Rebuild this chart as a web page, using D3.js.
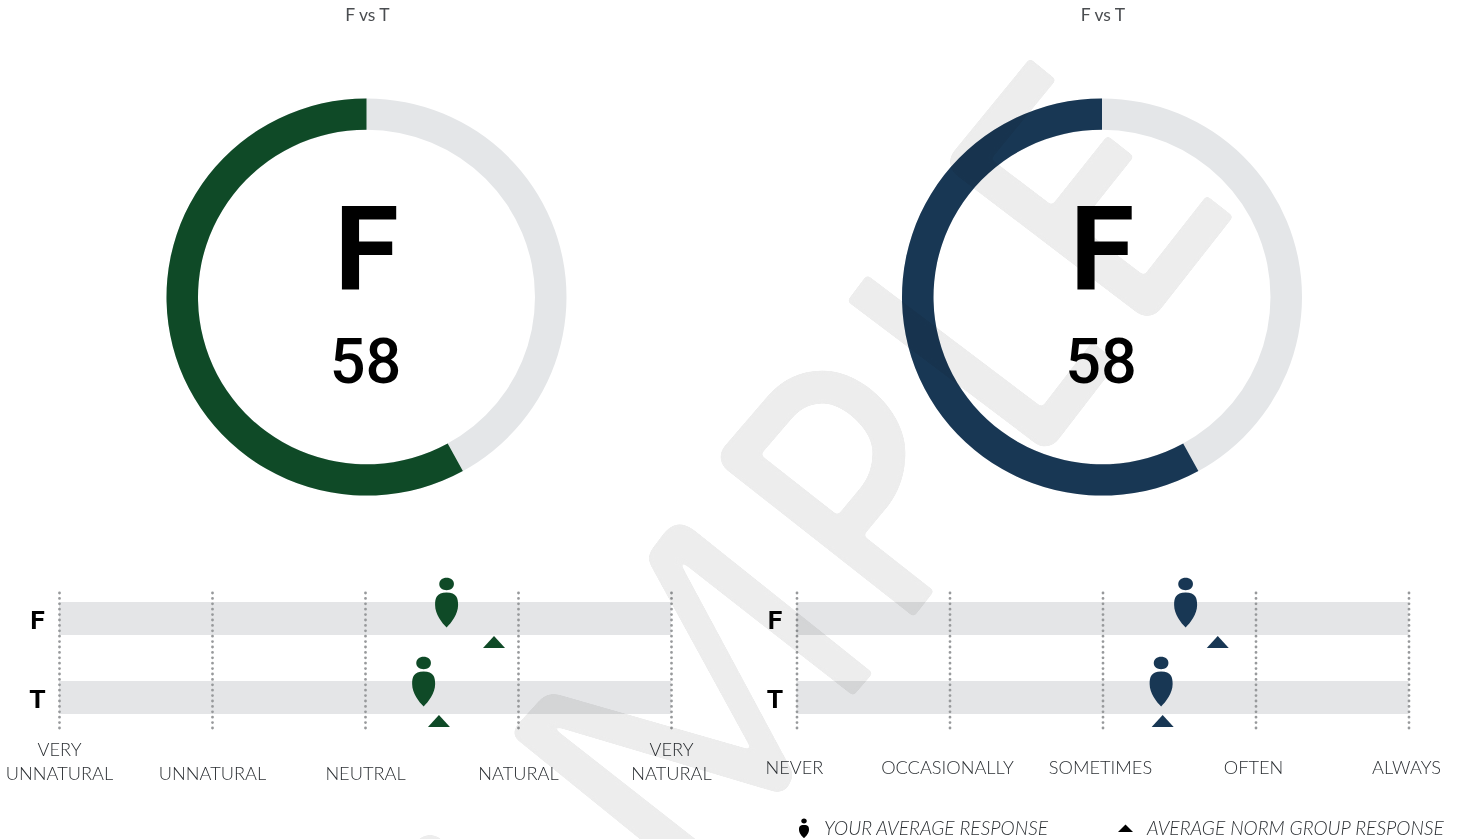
<!DOCTYPE html>
<html>
<head>
<meta charset="utf-8">
<script src="https://cdn.jsdelivr.net/npm/d3@7"></script>
<style>
    html, body { margin: 0; padding: 0; background: #fff; }
    svg { display: block; }
    text { font-family: Lato, sans-serif; }
    .scale-label { font-weight: 300; font-size: 18.2px; fill: #2b2f33; }
</style>
</head>
<body>
<div id="grafiek"></div>
<script>
// Gegevens
var titles = ["F vs T", "F vs T"];
var ringLetters = ["F", "F"];
var ringScores = [58, 58];
var rows = ["F", "T"];
var scaleLabelsLeft = [["VERY", "UNNATURAL"], ["UNNATURAL"], ["NEUTRAL"], ["NATURAL"], ["VERY", "NATURAL"]];
var scaleLabelsRight = [["NEVER"], ["OCCASIONALLY"], ["SOMETIMES"], ["OFTEN"], ["ALWAYS"]];
var scaleSteps = [1, 2, 3, 4, 5];
var yourLeft = [3.53, 3.38];
var normLeft = [3.84, 3.48];
var yourRight = [3.54, 3.38];
var normRight = [3.75, 3.39];
var legendLabels = ["YOUR AVERAGE RESPONSE", "AVERAGE NORM GROUP RESPONSE"];

var width = 1459;
var height = 839;
var green = "#0f4a27";
var navy = "#183754";
var lightGrey = "#e4e5e7";

var svg = d3.select("#grafiek")
    .append("svg")
    .attr("width", width)
    .attr("height", height);

// Ring met score
var angle = d3.scaleLinear().domain([0, 100]).range([0, -2 * Math.PI]);
var arc = d3.arc().innerRadius(168.5).outerRadius(200);

function drawRing(cx, title, letter, score, color) {
    var g = svg.append("g").attr("transform", "translate(" + cx + ",297)");
    var ring = g.append("g").attr("transform", "scale(1,0.993)");
    ring.append("path")
        .attr("d", arc({ startAngle: 0, endAngle: 2 * Math.PI }))
        .attr("fill", "#e4e6e8");
    ring.append("path")
        .attr("d", arc({ startAngle: 0, endAngle: angle(score) }))
        .attr("fill", color);
    g.append("text")
        .attr("y", -276)
        .attr("x", 1)
        .attr("text-anchor", "middle")
        .style("font-size", "17.5px")
        .style("fill", "#4a4d50")
        .text(title);
    g.append("text")
        .attr("y", -8)
        .attr("text-anchor", "middle")
        .style("font-family", "Roboto")
        .style("font-weight", "700")
        .style("font-size", "117px")
        .style("fill", "#000")
        .text(letter);
    g.append("text")
        .attr("x", -1)
        .attr("y", 86)
        .attr("text-anchor", "middle")
        .style("font-family", "Roboto")
        .style("font-weight", "500")
        .style("font-size", "63px")
        .style("fill", "#000")
        .text(score);
}

// Persoon-symbool: hoofd en druppel
function personPath(w, top, b, headRx, headRy, headY) {
    var p = d3.path();
    p.moveTo(0, top);
    p.bezierCurveTo(w * 0.44, top, w * 0.5, top + b * 0.16, w * 0.5, top + b * 0.36);
    p.bezierCurveTo(w * 0.5, top + b * 0.62, w * 0.2, top + b * 0.88, 0, top + b);
    p.bezierCurveTo(-w * 0.2, top + b * 0.88, -w * 0.5, top + b * 0.62, -w * 0.5, top + b * 0.36);
    p.bezierCurveTo(-w * 0.5, top + b * 0.16, -w * 0.44, top, 0, top);
    p.closePath();
    return p.toString() + d3.line().curve(d3.curveBasisClosed)([
        [-headRx, headY - headRy], [headRx, headY - headRy], [headRx, headY + headRy], [-headRx, headY + headRy]
    ]);
}

function trianglePath(w, h) {
    return "M0,0L" + (w / 2) + "," + h + "L" + (-w / 2) + "," + h + "Z";
}

// Schaal met stippellijnen, balken en markeringen
function drawScale(x0, x1, labels, your, norm, color, labelDx, lastLabelY) {
    var x = d3.scaleLinear().domain([1, 5]).range([x0, x1]);
    var y = d3.scalePoint().domain(rows).range([618.5, 697.5]);
    var g = svg.append("g");

    g.selectAll("rect.band")
        .data(rows)
        .enter()
        .append("rect")
        .attr("class", "band")
        .attr("x", x(1))
        .attr("y", function(d) { return y(d) - 16.5; })
        .attr("width", x(5) - x(1))
        .attr("height", 33)
        .attr("fill", lightGrey);

    var axis = d3.axisBottom(x)
        .tickValues(scaleSteps)
        .tickSize(136)
        .tickFormat("");

    var axisG = g.append("g")
        .attr("transform", "translate(0,593)")
        .call(axis);
    axisG.select(".domain").remove();
    axisG.selectAll(".tick line")
        .attr("stroke", "#97999b")
        .attr("stroke-width", 2.8)
        .attr("stroke-linecap", "round")
        .attr("stroke-dasharray", "0 5.4");

    scaleSteps.forEach(function(step, i) {
        var lines = labels[i];
        var label = g.append("text")
            .attr("class", "scale-label")
            .attr("text-anchor", "middle");
        lines.forEach(function(line, j) {
            label.append("tspan")
                .attr("x", x(step) + 0.5 + labelDx)
                .attr("y", lastLabelY - (lines.length - 1 - j) * 24)
                .text(line);
        });
    });

    g.selectAll("text.row")
        .data(rows)
        .enter()
        .append("text")
        .attr("class", "row")
        .attr("x", x0 - 21.5)
        .attr("y", function(d) { return y(d) + 10; })
        .attr("text-anchor", "middle")
        .style("font-family", "Roboto")
        .style("font-weight", "700")
        .style("font-size", "26.5px")
        .style("fill", "#000")
        .text(function(d) { return d; });

    g.selectAll("path.your")
        .data(your)
        .enter()
        .append("path")
        .attr("class", "your")
        .attr("d", personPath(23, 14, 35, 8, 6.8, 5.5))
        .attr("transform", function(d, i) {
            return "translate(" + (x(d) + 0.5) + "," + (y(rows[i]) - 40) + ")";
        })
        .attr("fill", color);

    g.selectAll("path.norm")
        .data(norm)
        .enter()
        .append("path")
        .attr("class", "norm")
        .attr("d", trianglePath(22, 12))
        .attr("transform", function(d, i) {
            return "translate(" + (x(d) + 0.5) + "," + (y(rows[i]) + 17.5) + ")";
        })
        .attr("fill", color);
}

drawRing(366.5, titles[0], ringLetters[0], ringScores[0], green);
drawRing(1102, titles[1], ringLetters[1], ringScores[1], navy);
drawScale(59, 671, scaleLabelsLeft, yourLeft, normLeft, green, 0, 780);
drawScale(796.5, 1408.5, scaleLabelsRight, yourRight, normRight, navy, -2.5, 774);

// Legenda
var legend = svg.append("g");
legend.append("path")
    .attr("d", personPath(10, 6, 13, 3, 2.6, 2))
    .attr("transform", "translate(804,819)")
    .attr("fill", "#000");
legend.append("path")
    .attr("d", trianglePath(15, 7.5))
    .attr("transform", "translate(1125.5,824.5)")
    .attr("fill", "#000");
legend.selectAll("text")
    .data(legendLabels)
    .enter()
    .append("text")
    .attr("x", function(d, i) { return i === 0 ? 824 : 1147; })
    .attr("y", 835)
    .style("font-weight", "300")
    .style("font-style", "italic")
    .style("font-size", "19.2px")
    .style("fill", "#2b2f33")
    .text(function(d) { return d; });

// Filter dat de hoeken van het watermerk afrondt
var filter = svg.append("defs").append("filter")
    .attr("id", "afgerond")
    .attr("filterUnits", "userSpaceOnUse")
    .attr("x", 0)
    .attr("y", 0)
    .attr("width", width)
    .attr("height", height + 60)
    .attr("color-interpolation-filters", "sRGB");
filter.append("feGaussianBlur").attr("stdDeviation", 2);
filter.append("feColorMatrix")
    .attr("values", "1 0 0 0 0  0 1 0 0 0  0 0 1 0 0  0 0 0 10 -4.5");

// Watermerk, de letters M P L E en een stukje van de A, over alles heen
var mark = svg.append("g")
    .style("mix-blend-mode", "multiply")
    .attr("filter", "url(#afgerond)")
    .attr("fill", "none")
    .attr("stroke", "#ededed");

// E
mark.append("path")
    .attr("d", "M1043,69L967,162L1147,299L1220,206M1053,231L1120.7,146")
    .attr("stroke-width", 34)
    .attr("stroke-linejoin", "round");
// L
mark.append("path")
    .attr("d", "M857,288L1045,430L1105,352")
    .attr("stroke-width", 33)
    .attr("stroke-linejoin", "round");
// P
mark.append("path")
    .attr("d", "M924,604L737,457L780,407C793,392 808,387 823,387C852,387 889,420 889,453C889,470 884,484 875,496L841,537")
    .attr("stroke-width", 33)
    .attr("stroke-linejoin", "round");
// M
mark.append("path")
    .attr("d", "M873,673L694,530Q677,517 664,533L652,549Q646,557 651,566L751.7,750L560,695Q547,691 538,702L517,725Q510,735 520,742L678,870L735,870L550,725L772,791Q782,794 788,787L790,783Q795,775 790,767L678.3,559.3L853.3,696Z")
    .attr("fill", "#ededed")
    .attr("stroke", "none");
// A
mark.append("circle")
    .attr("cx", 430)
    .attr("cy", 852)
    .attr("r", 17)
    .attr("fill", "#ededed")
    .attr("stroke", "none");
</script>
</body>
</html>
